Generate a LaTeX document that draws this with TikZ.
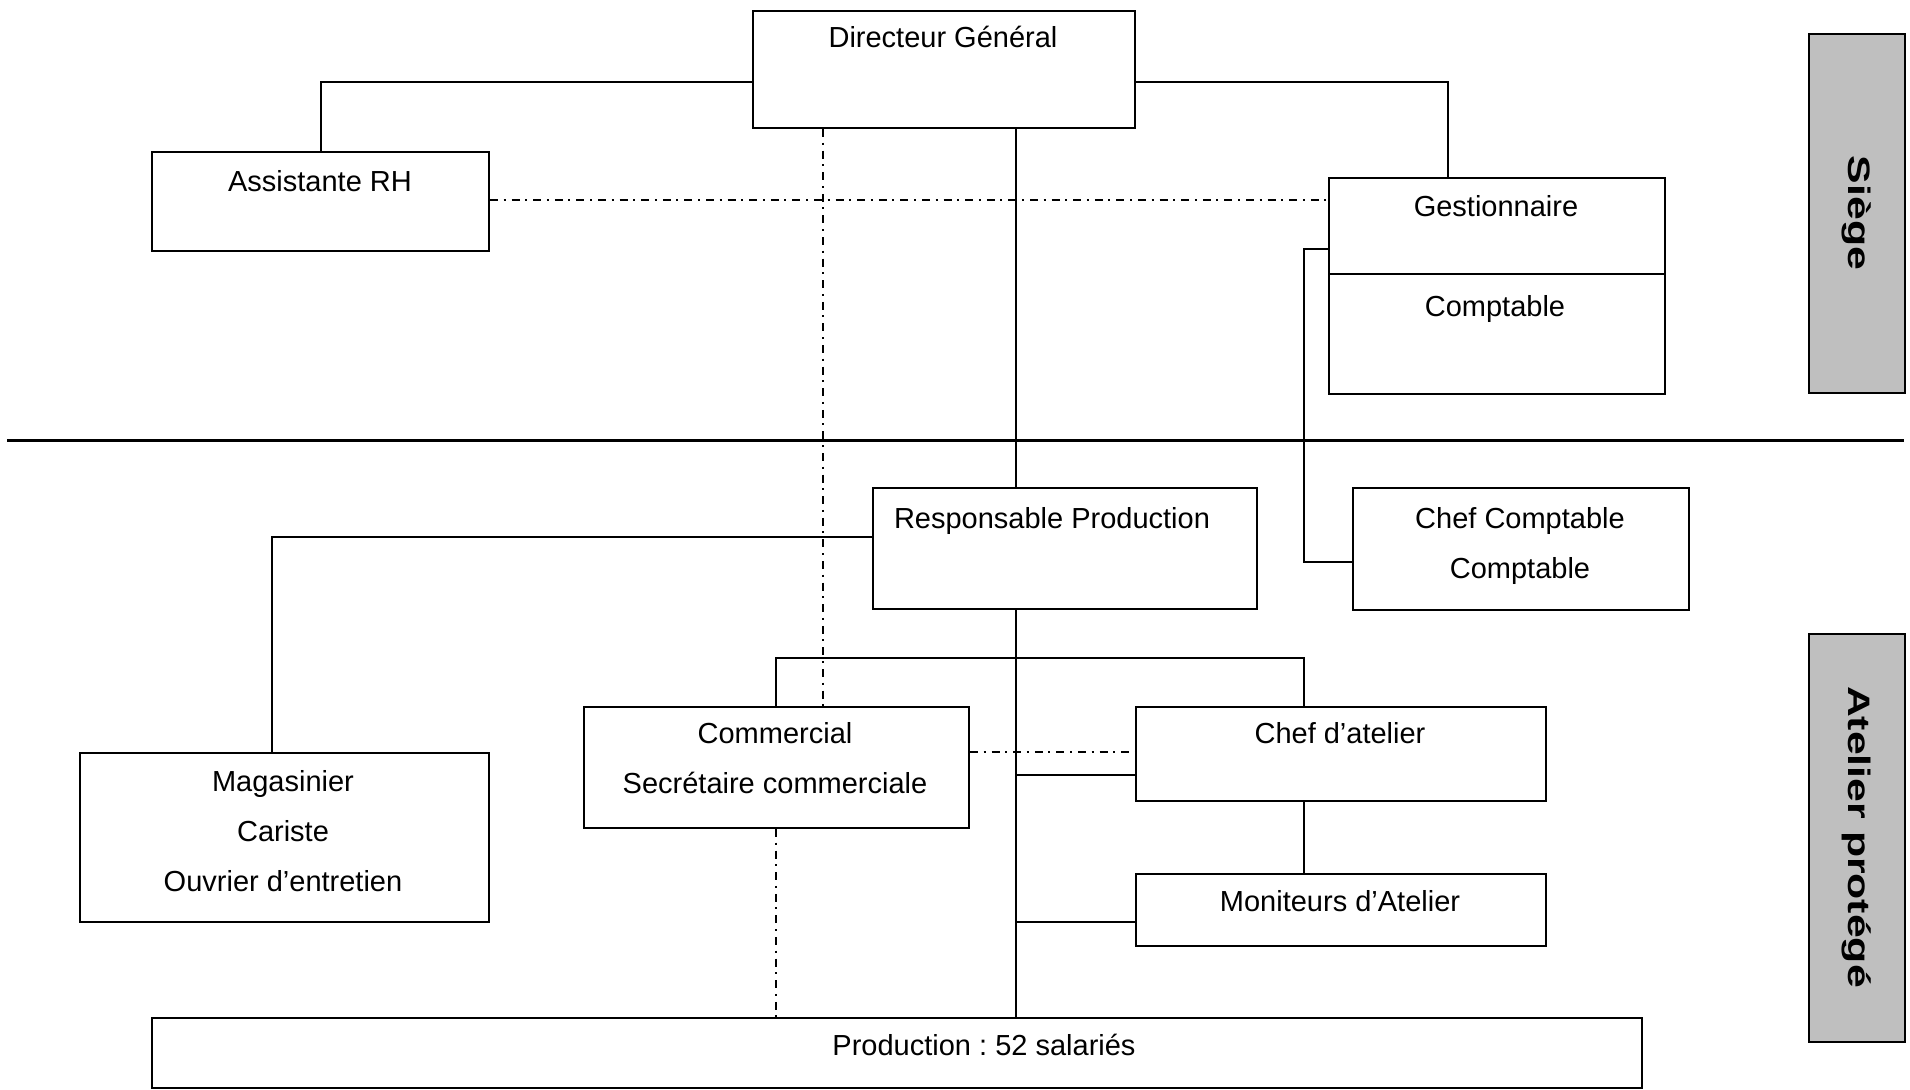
\documentclass[tikz,border=0pt]{standalone}
\usepackage{fontspec}
\setmainfont{Liberation Sans}
\frenchspacing
\begin{document}
\begin{tikzpicture}[x=0.5pt,y=-0.5pt,
  box/.style={draw, line width=1pt, inner sep=0pt, anchor=north west},
  side/.style={box, fill=gray!50!white},
  lbl/.style={anchor=base, inner sep=0pt, font=\fontsize{14.5}{17}\selectfont},
  vlbl/.style={anchor=center, inner sep=0pt, rotate=-90, xscale=1.38,
    font=\fontsize{15.5}{18}\selectfont\bfseries},
  link/.style={line width=1pt},
  aux/.style={line width=1pt, dash pattern=on 4pt off 2.8pt on 1pt off 3pt},
  sep/.style={line width=1.5pt}]
\useasboundingbox (0,0) rectangle (1910,1089);

% boxes
\node[box, minimum width=191pt, minimum height=58.5pt] (dg) at (752,10) {};
\node[box, minimum width=168.5pt, minimum height=49.5pt] (rh) at (151,151) {};
\node[box, minimum width=168pt, minimum height=48pt] (gest) at (1328,177) {};
\node[box, minimum width=168pt, minimum height=60pt] (compt) at (1328,273) {};
\node[box, minimum width=192pt, minimum height=60.5pt] (rp) at (872,487) {};
\node[box, minimum width=168pt, minimum height=61pt] (cc) at (1352,487) {};
\node[box, minimum width=204.5pt, minimum height=84.5pt] (mag) at (79,752) {};
\node[box, minimum width=192.5pt, minimum height=60.5pt] (com) at (583,706) {};
\node[box, minimum width=205pt, minimum height=47pt] (ca) at (1135,706) {};
\node[box, minimum width=205pt, minimum height=36pt] (mon) at (1135,873) {};
\node[box, minimum width=745pt, minimum height=35pt] (prod) at (151,1017) {};
\node[side, minimum width=48pt, minimum height=179.5pt] (siege) at (1808,33) {};
\node[side, minimum width=48pt, minimum height=204pt] (atel) at (1808,633) {};

% texts
\node[lbl] (t-dg) at (943,47) {Directeur Général};
\node[lbl] (t-rh) at (320,191.5) {Assistante RH};
\node[lbl] (t-gest) at (1496,216.5) {Gestionnaire};
\node[lbl] (t-compt) at (1495,316.5) {Comptable};
\node[lbl] (t-rp) at (1052,528.5) {Responsable Production};
\node[lbl] (t-cc1) at (1520,528.5) {Chef Comptable};
\node[lbl] (t-cc2) at (1520,578.5) {Comptable};
\node[lbl] (t-mag1) at (283,791.5) {Magasinier};
\node[lbl] (t-mag2) at (283,841.5) {Cariste};
\node[lbl] (t-mag3) at (283,891.5) {Ouvrier d’entretien};
\node[lbl] (t-com1) at (775,743.5) {Commercial};
\node[lbl] (t-com2) at (775,793.5) {Secrétaire commerciale};
\node[lbl] (t-ca) at (1340,743.5) {Chef d’atelier};
\node[lbl] (t-mon) at (1340,911.5) {Moniteurs d’Atelier};
\node[lbl] (t-prod) at (984,1055.5) {Production : 52 salariés};
\node[vlbl] (t-siege) at (1857,213) {Siège};
\node[vlbl] (t-atel) at (1857,837) {Atelier protégé};

% separator between the two sites
\coordinate (sepL) at (7,440);
\coordinate (sepR) at (1904,440);
\draw[sep] (sepL) -- (sepR);

% hierarchy links
\draw[link] (dg.west |- 0,82) -| (rh.north);
\draw[link] (dg.east |- 0,82) -| (gest.north -| 1448,0);
\draw[link] (dg.south -| 1016,0) -- (rp.north -| 1016,0);
\draw[link] (rp.south -| 1016,0) -- (prod.north -| 1016,0);
\draw[link] (gest.west |- 0,249) -- (1304,249) |- (cc.west |- 0,562);
\draw[link] (rp.west |- 0,537) -| (mag.north -| 272,0);
\draw[link] (com.north -| 776,0) |- (1304,658) -- (ca.north -| 1304,0);
\draw[link] (1016,775) -- (ca.west |- 0,775);
\draw[link] (ca.south -| 1304,0) -- (mon.north -| 1304,0);
\draw[link] (1016,922) -- (mon.west |- 0,922);

% functional links
\draw[aux] (rh.east |- 0,200) -- (gest.west |- 0,200);
\draw[aux] (dg.south -| 823,0) -- (com.north -| 823,0);
\draw[aux] (com.east |- 0,752) -- (ca.west |- 0,752);
\draw[aux] (com.south -| 776,0) -- (prod.north -| 776,0);
\end{tikzpicture}
\end{document}
